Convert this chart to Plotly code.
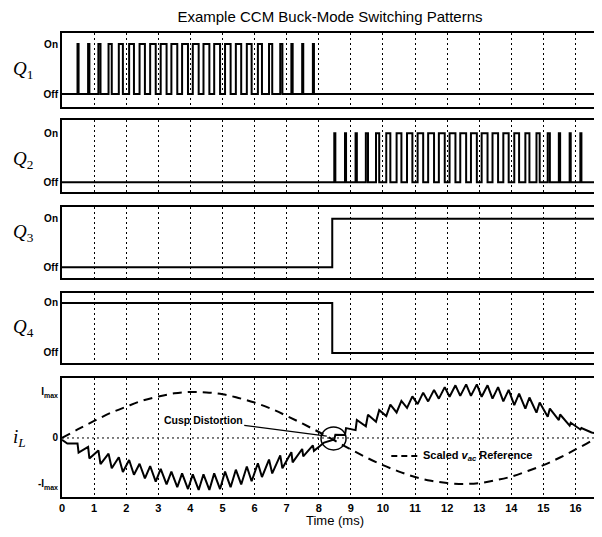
import plotly.graph_objects as go

# ---------------- data ----------------
switch_period_ms = 1 / 3          # 3 kHz switching
t_end_ms = 16.67                  # one 60 Hz line cycle
x_ticks = list(range(0, 17))

# duty ratio of Q1 in each switching period of the first half cycle
q1_duty = [0.0, 0.10, 0.12, 0.20, 0.30, 0.38, 0.45, 0.50, 0.52, 0.55, 0.55, 0.55, 0.55,
           0.55, 0.55, 0.52, 0.50, 0.45, 0.38, 0.30, 0.20, 0.12, 0.10, 0.10, 0.0]
# duty ratio of Q2 in each switching period of the second half cycle
q2_duty = [0.10, 0.10, 0.12, 0.20, 0.30, 0.38, 0.45, 0.50, 0.52, 0.55, 0.55, 0.55, 0.55,
           0.55, 0.55, 0.52, 0.50, 0.45, 0.38, 0.30, 0.20, 0.12, 0.10, 0.10, 0.0]

# Q3 / Q4 change state once
q34_switch_ms = 8.42
q3_levels = [0, 1]   # before, after
q4_levels = [1, 0]

# inductor current: average and peak-to-peak ripple per switching period (units of Imax)
il_avg = [-0.12, -0.22, -0.32, -0.42, -0.50, -0.58, -0.64, -0.72, -0.78, -0.84, -0.90, -0.94, -0.96,
          -0.96, -0.94, -0.90, -0.85, -0.78, -0.70, -0.62, -0.52, -0.42, -0.32, -0.22, -0.10,
          0.02, 0.14, 0.28, 0.38, 0.48, 0.60, 0.68, 0.78, 0.86, 0.92, 0.98, 1.02, 1.04,
          1.04, 1.02, 0.98, 0.92, 0.84, 0.76, 0.66, 0.55, 0.45, 0.30, 0.20, 0.12]
il_ripple = [0.10, 0.20, 0.25, 0.30, 0.32, 0.32, 0.32, 0.32, 0.34, 0.34, 0.34, 0.34, 0.34,
             0.34, 0.34, 0.34, 0.32, 0.32, 0.30, 0.30, 0.28, 0.22, 0.16, 0.12, 0.04,
             0.10, 0.15, 0.22, 0.25, 0.25, 0.25, 0.25, 0.25, 0.25, 0.25, 0.25, 0.25, 0.25,
             0.25, 0.25, 0.25, 0.25, 0.25, 0.24, 0.22, 0.18, 0.12, 0.06, 0.03, 0.02]
il_start = -0.04
il_end = 0.09

# scaled v_ac reference (dashed)
vac_t = [0, 0.5, 1, 1.5, 2, 2.5, 3, 3.5, 4, 4.5, 5, 5.5, 6, 6.5, 7, 7.5, 8, 8.5,
         9, 9.5, 10, 10.5, 11, 11.5, 12, 12.5, 13, 13.5, 14, 14.5, 15, 15.5, 16, 16.5, 16.67]
vac_val = [0.0, 0.19, 0.37, 0.54, 0.68, 0.81, 0.90, 0.97, 1.0, 0.99, 0.95, 0.87, 0.77, 0.64,
           0.48, 0.31, 0.13, -0.06, -0.25, -0.43, -0.59, -0.73, -0.85, -0.93, -0.98, -1.0,
           -0.98, -0.92, -0.84, -0.72, -0.59, -0.43, -0.25, -0.06, 0.02]

row_labels = ["<i>Q</i><sub>1</sub>", "<i>Q</i><sub>2</sub>", "<i>Q</i><sub>3</sub>",
              "<i>Q</i><sub>4</sub>", "<i>i</i><sub><i>L</i></sub>"]

# ---------------- build waveforms ----------------
T = switch_period_ms
n_half = len(q1_duty)


def pulse_train(duties, k0):
    xs, ys = [0.0], [0]
    for i, d in enumerate(duties):
        if d <= 0:
            continue
        c = (k0 + i + 0.5) * T
        a, b = c - d * T / 2, c + d * T / 2
        xs += [a, a, b, b]
        ys += [0, 1, 1, 0]
    xs.append(t_end_ms)
    ys.append(0)
    return xs, ys


q1_x, q1_y = pulse_train(q1_duty, 0)
q2_x, q2_y = pulse_train(q2_duty, n_half)
q3_x = [0, q34_switch_ms, q34_switch_ms, t_end_ms]
q3_y = [q3_levels[0], q3_levels[0], q3_levels[1], q3_levels[1]]
q4_x = q3_x
q4_y = [q4_levels[0], q4_levels[0], q4_levels[1], q4_levels[1]]

all_duty = q1_duty + q2_duty
il_x, il_y = [0.0], [il_start]
for k, (m, r) in enumerate(zip(il_avg, il_ripple)):
    d = all_duty[k]
    s = -1 if k < n_half else 1
    c = (k + 0.5) * T
    if d <= 0:
        il_x.append(c)
        il_y.append(m)
        continue
    il_x += [c - d * T / 2, c + d * T / 2]
    il_y += [m - s * r / 2, m + s * r / 2]
il_x.append(t_end_ms)
il_y.append(il_end)

# ---------------- figure ----------------
# the page body adds an 8 px offset, so the figure is 8 px smaller and shifted
FONT = "Liberation Sans"
FIG_W, FIG_H = 594, 529
domains = [[0.8405, 1.0], [0.657, 0.8125], [0.472, 0.625], [0.2888, 0.4397], [0.0, 0.2565]]
yranges = [[-0.26, 1.22], [-0.2, 1.27], [-0.22, 1.245], [-0.2, 1.2], [-1.283, 1.304]]
XR = [0, 16.7]

fig = go.Figure()
line = dict(color="black", width=2)
for i, (xs, ys) in enumerate([(q1_x, q1_y), (q2_x, q2_y), (q3_x, q3_y), (q4_x, q4_y)]):
    fig.add_trace(go.Scatter(x=xs, y=ys, mode="lines", line=line,
                             xaxis=f"x{i+1 if i else ''}", yaxis=f"y{i+1 if i else ''}",
                             showlegend=False, hoverinfo="skip"))
fig.add_trace(go.Scatter(x=vac_t, y=vac_val, mode="lines", line_shape="spline",
                         line=dict(color="black", width=2, dash="9px,6px"),
                         xaxis="x5", yaxis="y5", showlegend=False, hoverinfo="skip"))
fig.add_trace(go.Scatter(x=il_x, y=il_y, mode="lines", line=line,
                         xaxis="x5", yaxis="y5", showlegend=False, hoverinfo="skip"))

layout = dict(width=FIG_W, height=FIG_H, margin=dict(l=54, r=2, t=25, b=40),
              plot_bgcolor="white", paper_bgcolor="white",
              font=dict(family=FONT, color="black"),
              title=dict(text="Example CCM Buck-Mode Switching Patterns", x=0.5, xref="paper",
                         xanchor="center", y=1 - 9 / FIG_H, yref="container", yanchor="middle",
                         font=dict(family=FONT, size=15, color="black")))
for i in range(5):
    sfx = str(i + 1) if i else ""
    layout[f"xaxis{sfx}"] = dict(domain=[0, 1], anchor=f"y{sfx}", range=XR,
                                 tickvals=x_ticks, showticklabels=(i == 4), ticks="",
                                 showgrid=True, gridcolor="black", gridwidth=1, griddash="2px,3px",
                                 showline=True, mirror=True, linecolor="black", linewidth=2,
                                 zeroline=False,
                                 tickfont=dict(family=FONT, size=11, weight="bold"))
    if i < 4:
        ydef = dict(tickvals=[0, 1], ticktext=["Off", "On"])
    else:
        ydef = dict(tickvals=[-1, 0, 1], ticktext=["-I<sub>max</sub>", "0", "I<sub>max</sub>"])
    layout[f"yaxis{sfx}"] = dict(domain=domains[i], anchor=f"x{sfx}", range=yranges[i],
                                 showgrid=False, zeroline=False, ticks="",
                                 showline=True, mirror=True, linecolor="black", linewidth=2,
                                 tickfont=dict(family=FONT, size=10, weight="bold"), **ydef)
fig.update_layout(**layout)

# row labels
label_y = [0.920, 0.726, 0.569, 0.364, 0.127]
for lbl, yy in zip(row_labels, label_y):
    fig.add_annotation(text=lbl, x=-0.096, xref="paper", y=yy, yref="paper",
                       xanchor="left", yanchor="middle", showarrow=False,
                       font=dict(family="Liberation Serif", size=19, color="black"))

# x axis title
fig.add_annotation(text="Time (ms)", x=0.509, xref="paper", y=-0.05, yref="paper",
                   xanchor="center", yanchor="middle", showarrow=False,
                   font=dict(family=FONT, size=13, color="black"))

# dotted zero line in the current panel
fig.add_shape(type="line", xref="x5", yref="y5", x0=XR[0], x1=XR[1], y0=0, y1=0,
              line=dict(color="black", width=1, dash="2px,3px"))

# cusp distortion circle + label
fig.add_shape(type="circle", xref="x5", yref="y5", x0=8.07, x1=8.85, y0=-0.26, y1=0.24,
              line=dict(color="black", width=1.5))
fig.add_annotation(text="Cusp Distortion", x=8.25, y=0.04, xref="x5", yref="y5",
                   ax=4.4, ay=0.39, axref="x5", ayref="y5", showarrow=True,
                   arrowhead=0, arrowwidth=1.2, arrowcolor="black",
                   font=dict(family=FONT, size=10.5, color="black", weight="bold"))

# scaled v_ac reference label with dashed sample
fig.add_shape(type="line", xref="x5", yref="y5", x0=10.26, x1=11.1, y0=-0.39, y1=-0.39,
              line=dict(color="black", width=2, dash="6px,4px"))
fig.add_annotation(text="Scaled <i>v</i><sub><i>ac</i></sub> Reference", x=11.2, y=-0.39,
                   xref="x5", yref="y5", xanchor="left", yanchor="middle", showarrow=False,
                   font=dict(family=FONT, size=11, color="black", weight="bold"))

fig.write_html("out.html")
